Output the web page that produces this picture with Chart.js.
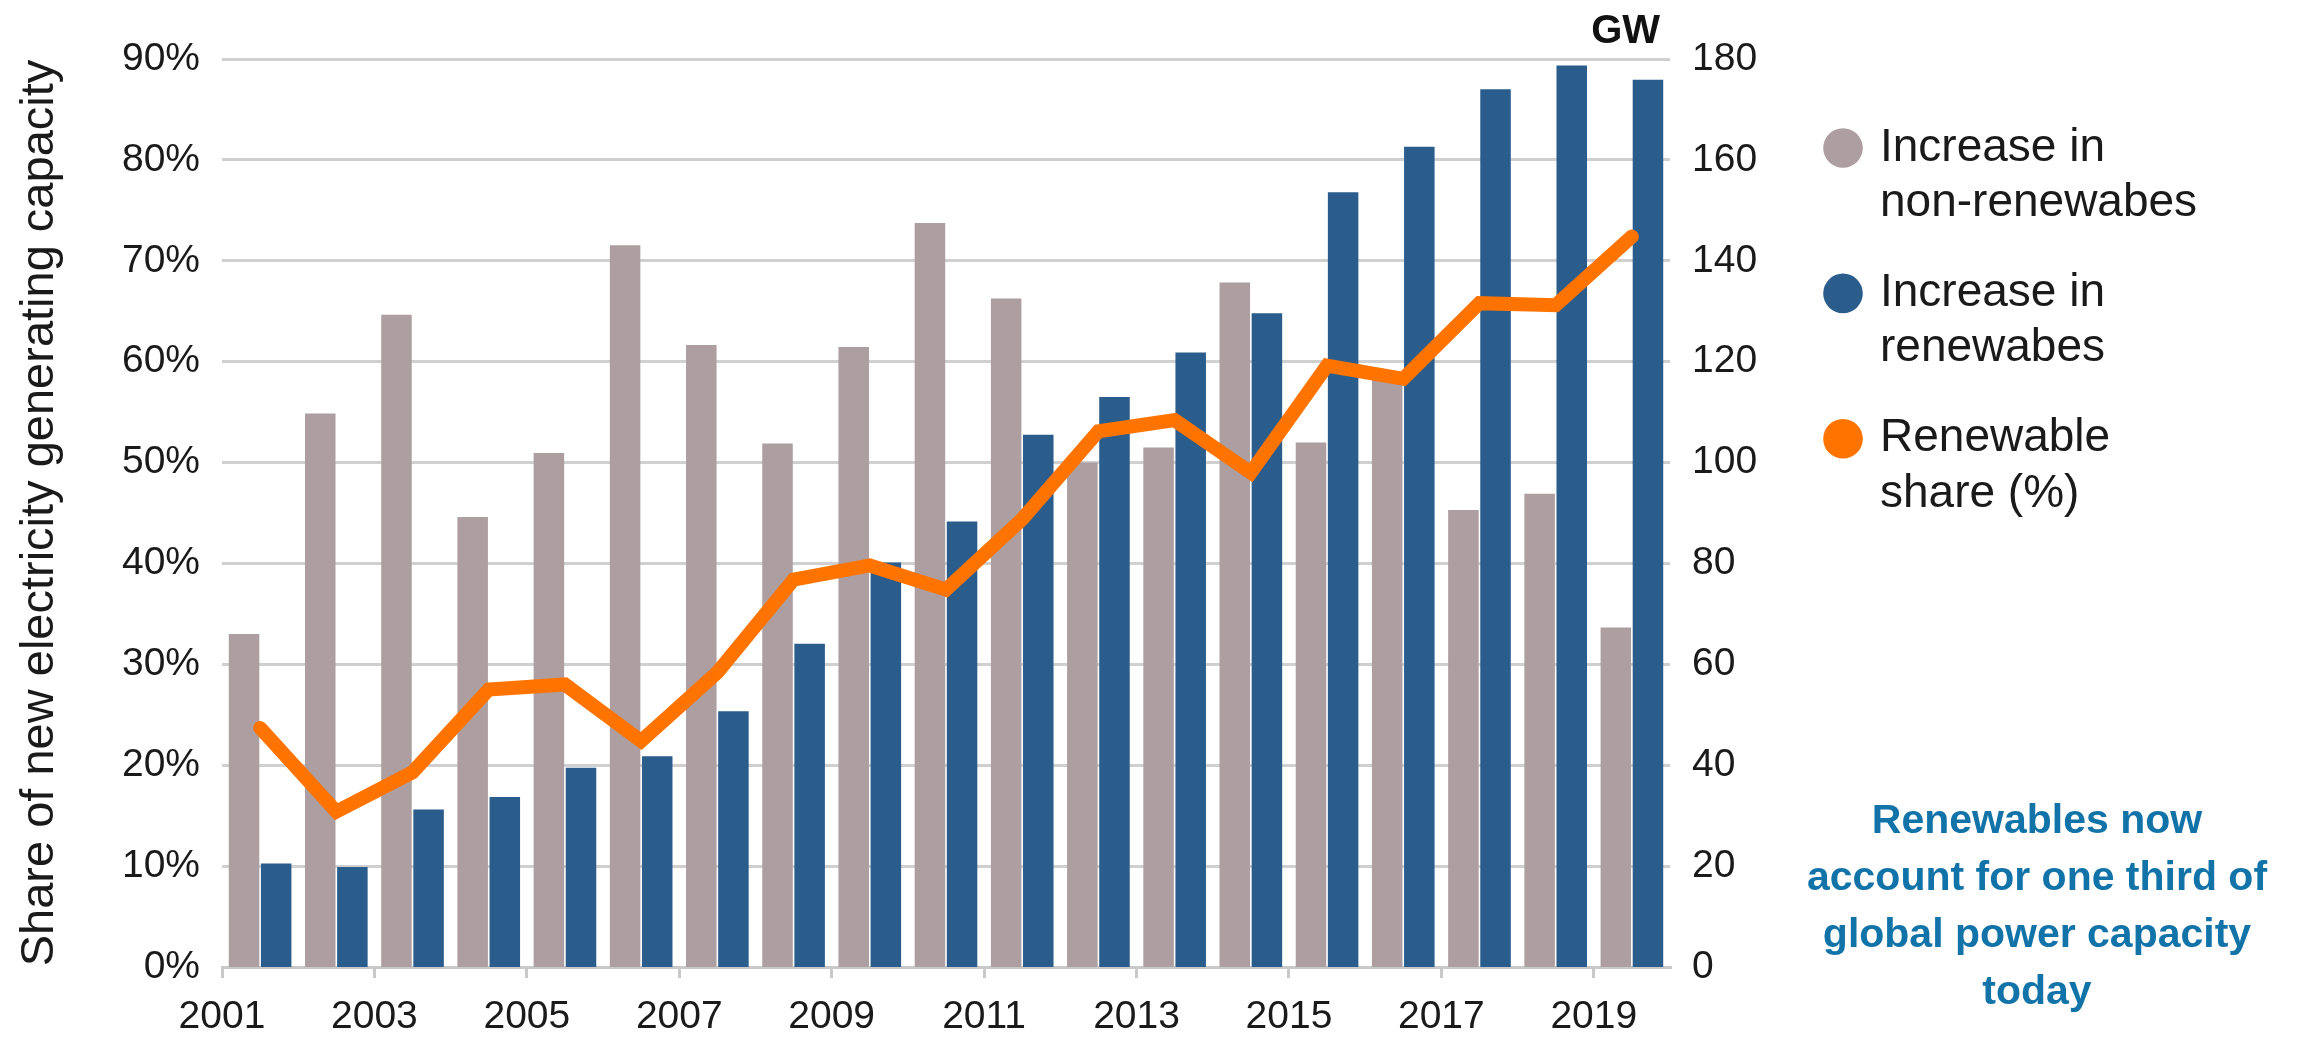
<!DOCTYPE html>
<html>
<head>
<meta charset="utf-8">
<title>New power capacity</title>
<script src="https://cdn.jsdelivr.net/npm/chart.js@4.4.1/dist/chart.umd.min.js"></script>
<style>
  body { margin: 0; background: #ffffff; }
  canvas { display: block; }
</style>
</head>
<body>
<canvas id="capacity" width="2299" height="1037"></canvas>
<script>
// GW added per year
let years = [2001, 2002, 2003, 2004, 2005, 2006, 2007, 2008, 2009, 2010,
             2011, 2012, 2013, 2014, 2015, 2016, 2017, 2018, 2019];
let nonRenewables = [66, 109.7, 129.3, 89.2, 101.9, 143.1, 123.3, 103.8, 122.9, 147.5,
                     132.5, 100, 103, 135.7, 104, 117, 90.6, 93.8, 67.3];
let renewables = [20.5, 19.8, 31.2, 33.7, 39.5, 41.8, 50.7, 64.1, 80.2, 88.3,
                  105.5, 113, 121.8, 129.6, 153.6, 162.6, 174, 178.7, 175.9];
// renewable share of new capacity, left axis (%)
let renewableShare = [23.7, 15.4, 19.3, 27.5, 28.0, 22.4, 29.2, 38.4, 39.8, 37.4,
                      44.4, 53.1, 54.2, 49.0, 59.6, 58.3, 65.8, 65.6, 72.4];
let yearTicks = [2001, 2003, 2005, 2007, 2009, 2011, 2013, 2015, 2017, 2019];
let legendLines = [['Increase in', 'non-renewabes'], ['Increase in', 'renewabes'], ['Renewable', 'share (%)']];
let noteLines = ['Renewables now', 'account for one third of', 'global power capacity', 'today'];

let colors = ['#ac9ea1', '#2b5d8c', '#ff7400'];
let narrow = "'Liberation Sans Narrow', 'Liberation Sans', Arial, sans-serif";
let regular = "'Liberation Sans', Arial, sans-serif";
let ink = '#1a1a1a';

// bars and line sit in the middle of each year slot
let atYear = (vals) => years.map((y, i) => ({ x: y + 0.5, y: vals[i] }));

let ctx = document.getElementById('capacity').getContext('2d');
let capacityChart = new Chart(ctx, {
  type: 'bar',
  data: {
    datasets: [{
      label: 'Increase in non-renewabes',
      data: atYear(nonRenewables),
      backgroundColor: colors[0],
      yAxisID: 'y1',
      order: 1,
      categoryPercentage: 0.843,
      barPercentage: 0.95
    }, {
      label: 'Increase in renewabes',
      data: atYear(renewables),
      backgroundColor: colors[1],
      yAxisID: 'y1',
      order: 1,
      categoryPercentage: 0.843,
      barPercentage: 0.95
    }, {
      type: 'line',
      label: 'Renewable share (%)',
      data: atYear(renewableShare),
      borderColor: colors[2],
      backgroundColor: colors[2],
      borderWidth: 14,
      pointRadius: 0,
      tension: 0,
      borderCapStyle: 'round',
      borderJoinStyle: 'miter',
      yAxisID: 'y',
      order: 0
    }]
  },
  options: {
    responsive: false,
    animation: false,
    layout: { padding: { left: 8, right: 95, top: 59, bottom: 0 } },
    plugins: {
      tooltip: { enabled: false },
      legend: {
        position: 'right',
        align: 'start',
        maxWidth: 410,
        title: { display: true, text: '', padding: { top: 0, bottom: 19 }, font: { size: 10 } },
        labels: {
          usePointStyle: true,
          pointStyle: 'circle',
          boxWidth: 28,
          boxHeight: 28,
          padding: 35,
          color: ink,
          font: { family: regular, size: 46, lineHeight: 1.2 },
          sort: (a, b) => a.datasetIndex - b.datasetIndex,
          generateLabels: function (chart) {
            let items = Chart.defaults.plugins.legend.labels.generateLabels(chart);
            items.forEach(function (it) {
              it.text = legendLines[it.datasetIndex];
              it.fillStyle = colors[it.datasetIndex];
              it.strokeStyle = colors[it.datasetIndex];
              it.lineWidth = 0;
              it.pointStyle = 'circle';
            });
            return items;
          }
        }
      }
    },
    scales: {
      x: {
        type: 'linear',
        position: 'bottom',
        min: 2001,
        max: 2020,
        offset: false,
        afterBuildTicks: function (scale) {
          scale.ticks = yearTicks.map(v => ({ value: v }));
        },
        afterFit: function (scale) { scale.height = 70; },
        ticks: {
          autoSkip: false,
          maxRotation: 0,
          padding: 16,
          color: ink,
          font: { family: narrow, size: 39 },
          callback: v => String(v)
        },
        grid: { offset: false, drawOnChartArea: false, tickLength: 11, color: '#c9c9c9', lineWidth: 3 },
        border: { display: true, color: '#c9c9c9', width: 3 }
      },
      y: {
        position: 'left',
        min: 0,
        max: 90,
        afterFit: function (scale) { scale.width = 214; },
        ticks: {
          stepSize: 10,
          padding: 22,
          color: ink,
          font: { family: narrow, size: 39 },
          callback: v => v + '%'
        },
        grid: { color: '#d0d0d0', lineWidth: 3, drawTicks: false },
        border: { display: false },
        title: {
          display: true,
          text: 'Share of new electricity generating capacity',
          color: ink,
          font: { family: regular, size: 47 },
          padding: { top: 4, bottom: 0 }
        }
      },
      y1: {
        position: 'right',
        min: 0,
        max: 180,
        afterFit: function (scale) { scale.width = 124; },
        ticks: {
          stepSize: 20,
          padding: 22,
          color: ink,
          font: { family: narrow, size: 39 }
        },
        grid: { display: false, drawTicks: false },
        border: { display: false }
      }
    }
  },
  plugins: [{
    id: 'notes',
    afterDraw: function (chart) {
      let c = chart.ctx,
          area = chart.chartArea;
      c.save();
      c.textBaseline = 'alphabetic';
      c.fillStyle = '#111111';
      c.font = 'bold 40px ' + regular;
      c.textAlign = 'right';
      c.fillText('GW', area.right - 10, area.top - 16);

      c.fillStyle = '#1273a9';
      c.font = 'bold 41px ' + regular;
      c.textAlign = 'center';
      noteLines.forEach((line, i) => c.fillText(line, 2037, 833 + i * 57));
      c.restore();
    }
  }]
});
</script>
</body>
</html>
